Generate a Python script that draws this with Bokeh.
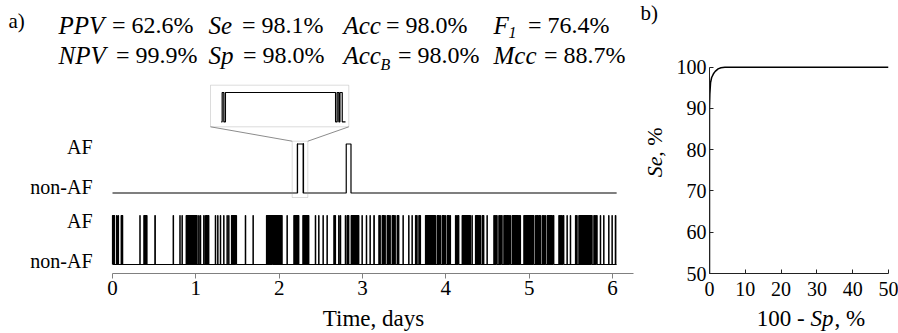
import math
from bokeh.plotting import figure
from bokeh.models import Range1d, FixedTicker, Label, BoxAnnotation
from bokeh.layouts import row, column
from bokeh.embed import file_html
from bokeh.resources import INLINE

# ---------------- data ----------------
time_ticks = [0, 1, 2, 3, 4, 5, 6]
record_end = 6.05  # days
time_axis_end = 6.25

# reference (true) AF episodes: (onset, offset) in days
true_af_episodes = [
    (0.000, 0.006), (0.010, 0.016), (0.020, 0.024), (0.048, 0.052), (0.066, 0.072),
    (0.104, 0.110), (0.116, 0.122), (0.328, 0.332),
    (0.376, 0.382), (0.388, 0.394), (0.398, 0.404), (0.408, 0.414),
    (0.508, 0.514), (0.728, 0.732), (0.808, 0.812), (0.834, 0.838),
    (0.884, 0.890), (0.894, 0.900), (0.904, 0.910), (0.914, 0.920), (0.924, 0.930),
    (0.934, 0.940), (0.946, 0.952), (0.956, 0.962), (0.966, 0.972), (0.978, 0.984),
    (0.990, 0.996), (1.004, 1.010), (1.012, 1.016),
    (1.034, 1.038), (1.054, 1.058),
    (1.094, 1.100), (1.116, 1.122), (1.128, 1.134), (1.142, 1.148), (1.152, 1.156),
    (1.234, 1.238), (1.262, 1.266), (1.294, 1.298), (1.334, 1.338), (1.374, 1.378), (1.394, 1.398),
    (1.428, 1.434), (1.438, 1.444), (1.448, 1.454), (1.458, 1.464), (1.468, 1.474), (1.478, 1.488),
    (1.594, 1.598), (1.686, 1.690),
    (1.848, 1.854), (1.858, 1.864), (1.868, 1.874), (1.878, 1.884), (1.888, 1.894),
    (1.898, 1.904), (1.908, 1.914), (1.918, 1.926), (1.930, 1.936), (1.940, 1.946),
    (1.952, 1.958), (1.962, 1.968), (1.972, 1.978), (1.982, 1.988), (1.994, 2.000),
    (2.006, 2.012), (2.018, 2.024), (2.030, 2.036),
    (2.094, 2.098),
    (2.176, 2.182), (2.186, 2.192), (2.196, 2.202), (2.206, 2.212), (2.218, 2.224), (2.230, 2.236),
    (2.284, 2.290), (2.294, 2.300), (2.304, 2.310), (2.314, 2.320), (2.326, 2.332),
    (2.338, 2.344), (2.350, 2.356),
    (2.434, 2.438), (2.474, 2.478), (2.526, 2.530), (2.574, 2.578),
    (2.656, 2.662), (2.670, 2.676), (2.714, 2.718), (2.734, 2.738), (2.794, 2.798),
    (2.816, 2.822), (2.830, 2.836),
    (2.864, 2.870), (2.874, 2.880), (2.884, 2.890), (2.896, 2.902), (2.908, 2.914),
    (2.920, 2.926), (2.932, 2.938), (2.944, 2.950), (2.952, 2.956),
    (2.994, 2.998), (3.046, 3.050), (3.090, 3.094),
    (3.136, 3.142), (3.196, 3.202), (3.208, 3.214),
    (3.236, 3.242), (3.250, 3.256), (3.266, 3.274),
    (3.296, 3.302), (3.310, 3.316), (3.326, 3.334),
    (3.356, 3.362), (3.370, 3.376), (3.386, 3.394),
    (3.416, 3.422), (3.430, 3.436), (3.486, 3.490), (3.554, 3.558), (3.594, 3.598),
    (3.636, 3.642), (3.650, 3.656), (3.676, 3.682), (3.690, 3.696),
    (3.756, 3.762), (3.766, 3.772), (3.776, 3.782), (3.786, 3.792), (3.796, 3.802),
    (3.806, 3.812), (3.816, 3.822), (3.826, 3.832), (3.836, 3.842), (3.848, 3.854),
    (3.860, 3.866), (3.870, 3.876),
    (3.896, 3.902), (3.910, 3.916), (3.926, 3.936),
    (3.956, 3.962), (3.970, 3.976), (3.986, 3.996),
    (4.016, 4.022), (4.030, 4.036), (4.046, 4.056),
    (4.116, 4.122), (4.132, 4.138), (4.148, 4.156),
    (4.196, 4.202), (4.206, 4.212), (4.218, 4.224), (4.230, 4.236), (4.242, 4.248),
    (4.254, 4.260), (4.266, 4.272), (4.280, 4.286), (4.290, 4.296),
    (4.314, 4.318),
    (4.356, 4.362), (4.368, 4.374), (4.380, 4.386), (4.394, 4.400), (4.408, 4.416),
    (4.436, 4.442), (4.450, 4.456), (4.494, 4.498),
    (4.576, 4.582), (4.590, 4.596), (4.606, 4.616),
    (4.636, 4.642), (4.650, 4.656), (4.666, 4.676),
    (4.696, 4.702), (4.708, 4.714), (4.720, 4.726), (4.734, 4.740), (4.748, 4.754), (4.764, 4.776),
    (4.796, 4.802), (4.808, 4.814), (4.820, 4.826), (4.832, 4.838), (4.846, 4.852),
    (4.860, 4.866), (4.874, 4.880), (4.888, 4.896),
    (4.936, 4.942), (4.946, 4.952), (4.956, 4.962), (4.966, 4.972), (4.976, 4.982),
    (4.986, 4.992), (4.996, 5.002), (5.006, 5.012), (5.016, 5.022), (5.026, 5.032),
    (5.036, 5.042), (5.048, 5.056),
    (5.076, 5.082), (5.090, 5.096), (5.104, 5.110), (5.120, 5.126), (5.130, 5.136),
    (5.156, 5.162), (5.172, 5.178), (5.188, 5.196),
    (5.216, 5.222), (5.228, 5.234), (5.240, 5.246), (5.254, 5.260), (5.268, 5.274), (5.284, 5.296),
    (5.356, 5.362), (5.370, 5.376), (5.386, 5.392), (5.404, 5.416),
    (5.454, 5.458), (5.494, 5.498), (5.556, 5.562), (5.570, 5.576),
    (5.596, 5.602), (5.606, 5.612), (5.616, 5.622), (5.626, 5.632), (5.636, 5.642),
    (5.646, 5.652), (5.656, 5.662), (5.666, 5.672), (5.676, 5.682), (5.686, 5.692),
    (5.696, 5.702), (5.706, 5.712), (5.716, 5.722), (5.726, 5.732), (5.736, 5.742), (5.746, 5.756),
    (5.776, 5.782), (5.790, 5.796), (5.806, 5.816),
    (5.854, 5.858), (5.894, 5.898), (5.954, 5.958), (5.994, 5.998), (6.034, 6.040),
]

# detected AF episodes: (onset, offset) in days
detected_af_episodes = [
    (2.2183, 2.2193), (2.2203, 2.2879), (2.2889, 2.2899), (2.2906, 2.2920),
    (2.805, 2.862),
]
zoom_window = (2.2177, 2.2940)   # days shown in the magnified inset

state_labels = ["non-AF", "AF", "non-AF", "AF"]

metric_names_1 = ["PPV", "Se", "Acc", "F"]
metric_subs_1 = ["", "", "", "1"]
metric_values_1 = ["= 62.6%", "= 98.1%", "= 98.0%", "= 76.4%"]
metric_names_2 = ["NPV", "Sp", "Acc", "Mcc"]
metric_subs_2 = ["", "", "B", ""]
metric_values_2 = ["= 99.9%", "= 98.0%", "= 98.0%", "= 88.7%"]

roc_fpr = [0, 0, 0.1, 0.3, 0.6, 1.1, 1.6, 2.4, 3.2, 4.3, 6.0, 10, 20, 30, 40, 50]
roc_se = [50, 90, 93.5, 96.3, 97.5, 98.4, 99.0, 99.6, 99.85, 99.97, 100, 100, 100, 100, 100, 100]
roc_xticks = [0, 10, 20, 30, 40, 50]
roc_yticks = [50, 60, 70, 80, 90, 100]

# ---------------- layout constants (screen px) ----------------
FONT = "Liberation Serif"
TOP_H = 304          # height of the two panels
STRIP_H = 29         # text strip with the axis titles
WA = 672             # panel a canvas width (frame spans all of it)
FRAME_BOTTOM = 273   # y of the time axis
X0_PX = 112          # x of day 0
PX_PER_DAY = 83.33
BASE_PX, PX_PER_UNIT = 264.0, 49.0


def a_x(px):
    return (px - X0_PX) / PX_PER_DAY


def a_y(py):
    return (BASE_PX - py) / PX_PER_UNIT


LOW_BASE, AMP = 0.0, 1.0
UP_BASE = a_y(192.5)


def step_xy(episodes, t0, t1, base, amp):
    xs, ys = [t0], [base]
    for on, off in episodes:
        if off < t0 or on > t1:
            continue
        on, off = max(on, t0), min(off, t1)
        xs += [on, on, off, off]
        ys += [base, base + amp, base + amp, base]
    xs.append(t1)
    ys.append(base)
    return xs, ys


def lab(fig, x, y, text, size, style="normal", align="left", angle=0.0):
    fig.add_layout(Label(x=x, y=y, text=text, text_font=FONT, text_font_size=size,
                         text_font_style=style, text_align=align, text_baseline="middle",
                         text_color="black", angle=angle))


pa = figure(width=WA, height=TOP_H,
            x_range=Range1d(a_x(0), a_x(WA)), y_range=Range1d(a_y(FRAME_BOTTOM), a_y(0)),
            output_backend="svg", toolbar_location=None, y_axis_location=None,
            min_border_left=0, min_border_right=0, min_border_top=0,
            min_border_bottom=TOP_H - FRAME_BOTTOM)
pa.outline_line_color = None
pa.grid.grid_line_color = None
pa.background_fill_color = "white"

# traces
lx, ly = step_xy(true_af_episodes, 0.0, record_end, LOW_BASE, AMP)
pa.line(lx, ly, color="black", line_width=1.2)
ux, uy = step_xy(detected_af_episodes, 0.0, record_end, UP_BASE, AMP)
pa.line(ux, uy, color="black", line_width=1.2)

# inset (magnified view of the detected episode)
ins_x0, ins_x1 = a_x(220.7), a_x(345.0)
ins_base, ins_top = a_y(121.3), a_y(92.0)
zx, zy = step_xy(detected_af_episodes, zoom_window[0], zoom_window[1], 0.0, 1.0)
zx = [ins_x0 + (t - zoom_window[0]) / (zoom_window[1] - zoom_window[0]) * (ins_x1 - ins_x0) for t in zx]
zy = [ins_base + v * (ins_top - ins_base) for v in zy]
pa.line(zx, zy, color="black", line_width=1.2)

GREY = "#8c8c8c"
big = dict(l=a_x(210), r=a_x(348.3), t=a_y(84.7), b=a_y(126.3))
small = dict(l=a_x(291.7), r=a_x(307.3), t=a_y(140.7), b=a_y(197))
for bx in (big, small):
    pa.add_layout(BoxAnnotation(left=bx["l"], right=bx["r"], top=bx["t"], bottom=bx["b"],
                                fill_alpha=0, line_color=GREY, line_width=1))
pa.line([big["l"], small["l"]], [big["b"], small["t"]], color=GREY, line_width=1)
pa.line([big["r"], small["r"]], [big["b"], small["t"]], color=GREY, line_width=1)

# time axis
xa = pa.xaxis[0]
xa.bounds = (0, time_axis_end)
xa.ticker = FixedTicker(ticks=time_ticks)
xa.major_label_text_font = FONT
xa.major_label_text_font_size = "21px"
xa.major_label_text_color = "black"
xa.major_label_standoff = 2
xa.major_tick_out = 5
xa.major_tick_in = 0
xa.minor_tick_line_color = None
xa.axis_line_color = "#808080"
xa.major_tick_line_color = "#808080"

# state labels
for py, txt in zip([260, 220, 186, 146], state_labels):
    lab(pa, a_x(92), a_y(py), txt, "20px", align="right")

# metrics (y = visual middle of each text row)
lab(pa, a_x(8), a_y(20), "a)", "21px")
name_starts = [58, 208, 343, 493]
ends_1 = [193, 323, 467, 609]
ends_2 = [197, 324, 479, 625]
sub_x_1 = [None, None, None, 508]
sub_x_2 = [None, None, 380, None]
for i in range(4):
    lab(pa, a_x(name_starts[i]), a_y(24.6), metric_names_1[i], "25px", "italic")
    lab(pa, a_x(ends_1[i]), a_y(24.6), metric_values_1[i], "24px", align="right")
    if metric_subs_1[i]:
        lab(pa, a_x(sub_x_1[i]), a_y(32), metric_subs_1[i], "16px", "italic")
    lab(pa, a_x(name_starts[i]), a_y(54.6), metric_names_2[i], "25px", "italic")
    lab(pa, a_x(ends_2[i]), a_y(54.6), metric_values_2[i], "24px", align="right")
    if metric_subs_2[i]:
        lab(pa, a_x(sub_x_2[i]), a_y(64), metric_subs_2[i], "16px", "italic")

# panel b texts that sit left of its axis (drawn in panel a's frame)
lab(pa, a_x(640), a_y(12), "b)", "21px")
lab(pa, a_x(654), a_y(166.4), "Se", "22px", "italic", align="center", angle=math.pi / 2)
lab(pa, a_x(654), a_y(141.5), ", %", "22px", align="center", angle=math.pi / 2)

# ---------------- panel b ----------------
WB = 898 - WA
B_LEFT, B_RIGHT = 709, 888
B_Y100 = 66.7
unit_b = (FRAME_BOTTOM - B_Y100) / 50.0
pb = figure(width=WB, height=TOP_H, x_range=Range1d(0, 50),
            y_range=Range1d(50, 100 + B_Y100 / unit_b),
            output_backend="svg", toolbar_location=None,
            min_border_left=B_LEFT - WA, min_border_right=898 - B_RIGHT, min_border_top=0,
            min_border_bottom=TOP_H - FRAME_BOTTOM)
pb.outline_line_color = None
pb.grid.grid_line_color = None
pb.background_fill_color = "white"
pb.line(roc_fpr, roc_se, color="black", line_width=1.5)

for ax, ticks, stand in ((pb.xaxis[0], roc_xticks, 8), (pb.yaxis[0], roc_yticks, 3)):
    ax.ticker = FixedTicker(ticks=ticks)
    ax.major_label_text_font = FONT
    ax.major_label_text_font_size = "20px"
    ax.major_label_text_color = "black"
    ax.major_label_standoff = stand
    ax.major_tick_in = 4
    ax.major_tick_out = 0
    ax.minor_tick_line_color = None
    ax.axis_line_color = "#222222"
    ax.major_tick_line_color = "#222222"
pb.yaxis[0].bounds = (50, 100)

# ---------------- bottom strip with the axis titles ----------------
strip = figure(width=898, height=STRIP_H, x_range=Range1d(0, 898),
               y_range=Range1d(TOP_H + STRIP_H, TOP_H),
               output_backend="svg", toolbar_location=None,
               x_axis_location=None, y_axis_location=None,
               min_border_left=0, min_border_right=0, min_border_top=0, min_border_bottom=0)
strip.outline_line_color = None
strip.grid.grid_line_color = None
lab(strip, 373, 318, "Time, days", "23px", align="center")
s1, s2 = 810, 834
lab(strip, s1, 318, "100 - ", "23px", align="right")
lab(strip, s1, 318, "Sp", "23px", "italic")
lab(strip, s2, 318, ", %", "23px")

layout = column(row(pa, pb), strip)
open("out.html", "w").write(file_html(layout, INLINE))
